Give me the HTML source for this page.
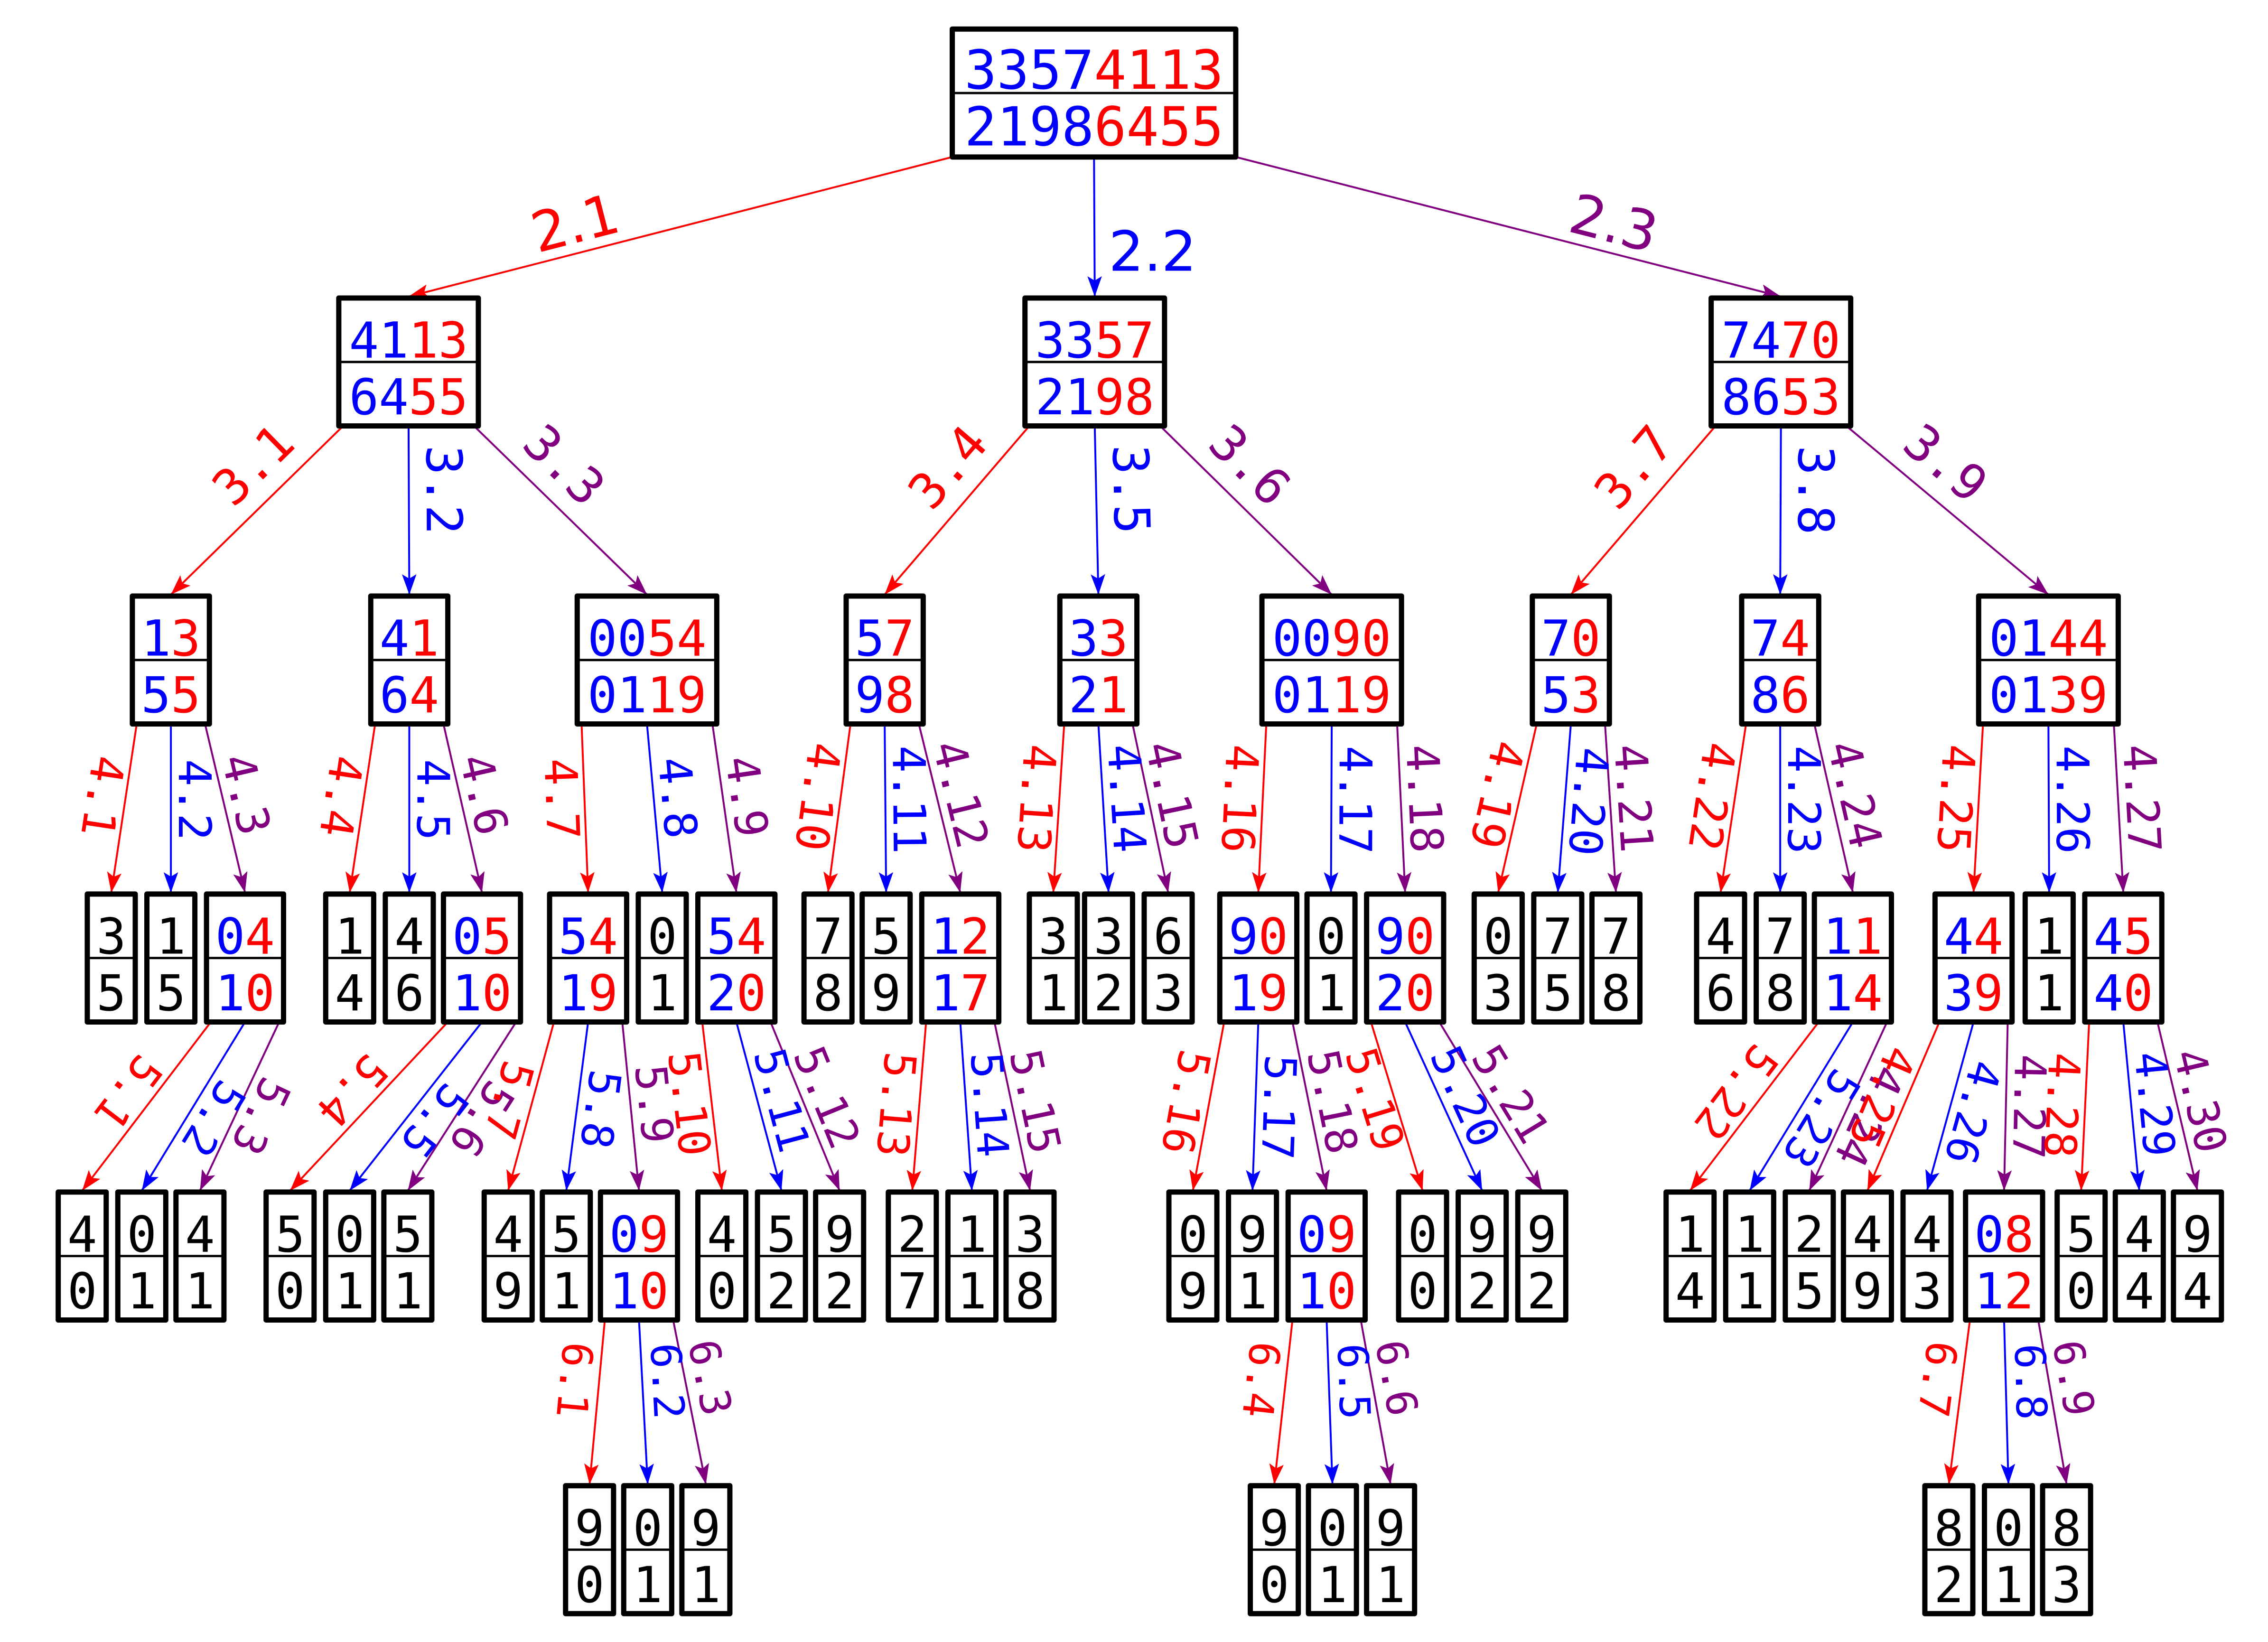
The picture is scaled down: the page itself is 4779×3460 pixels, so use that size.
<!DOCTYPE html>
<html><head><meta charset="utf-8"><style>
html,body{margin:0;padding:0;background:#fff}
svg{display:block}
</style></head><body>
<svg id="tree" width="4779" height="3460" viewBox="0 0 1560 1129.5" xmlns="http://www.w3.org/2000/svg">
<defs>
<marker id="ar-red" viewBox="0 0 14 10" refX="14" refY="5" markerWidth="14" markerHeight="10" markerUnits="userSpaceOnUse" orient="auto"><path d="M0,0 L14,5 L0,10 L3,5 Z" fill="#ff0000"/></marker>
<marker id="ar-blue" viewBox="0 0 14 10" refX="14" refY="5" markerWidth="14" markerHeight="10" markerUnits="userSpaceOnUse" orient="auto"><path d="M0,0 L14,5 L0,10 L3,5 Z" fill="#0000ff"/></marker>
<marker id="ar-purple" viewBox="0 0 14 10" refX="14" refY="5" markerWidth="14" markerHeight="10" markerUnits="userSpaceOnUse" orient="auto"><path d="M0,0 L14,5 L0,10 L3,5 Z" fill="#800080"/></marker>
</defs>
<g id="edges"></g><g id="nodes"></g><g id="labels"></g>
</svg>
<script>
// node data: top text, bottom text, level, parent index, edge label
const nodeTop = ["33574113","4113","3357","7470",
 "13","41","0054","57","33","0090","70","74","0144",
 "3","1","04","1","4","05","54","0","54","7","5","12","3","3","6","90","0","90","0","7","7","4","7","11","44","1","45",
 "4","0","4","5","0","5","4","5","09","4","5","9","2","1","3","0","9","09","0","9","9","1","1","2","4","4","08","5","4","9",
 "9","0","9","9","0","9","8","0","8"];
const nodeBottom = ["21986455","6455","2198","8653",
 "55","64","0119","98","21","0119","53","86","0139",
 "5","5","10","4","6","10","19","1","20","8","9","17","1","2","3","19","1","20","3","5","8","6","8","14","39","1","40",
 "0","1","1","0","1","1","9","1","10","0","2","2","7","1","8","9","1","10","0","2","2","4","1","5","9","3","12","0","4","4",
 "0","1","1","0","1","1","2","1","3"];
const nodeLevel = [0,1,1,1, 2,2,2,2,2,2,2,2,2,
 3,3,3,3,3,3,3,3,3,3,3,3,3,3,3,3,3,3,3,3,3,3,3,3,3,3,3,
 4,4,4,4,4,4,4,4,4,4,4,4,4,4,4,4,4,4,4,4,4,4,4,4,4,4,4,4,4,4,
 5,5,5,5,5,5,5,5,5];
const nodeParent = [-1,0,0,0, 1,1,1,2,2,2,3,3,3,
 4,4,4,5,5,5,6,6,6,7,7,7,8,8,8,9,9,9,10,10,10,11,11,11,12,12,12,
 15,15,15,18,18,18,19,19,19,21,21,21,24,24,24,28,28,28,30,30,30,36,36,36,37,37,37,39,39,39,
 48,48,48,57,57,57,66,66,66];
const edgeLabel = ["","2.1","2.2","2.3",
 "3.1","3.2","3.3","3.4","3.5","3.6","3.7","3.8","3.9",
 "4.1","4.2","4.3","4.4","4.5","4.6","4.7","4.8","4.9","4.10","4.11","4.12","4.13","4.14","4.15","4.16","4.17","4.18","4.19","4.20","4.21","4.22","4.23","4.24","4.25","4.26","4.27",
 "5.1","5.2","5.3","5.4","5.5","5.6","5.7","5.8","5.9","5.10","5.11","5.12","5.13","5.14","5.15","5.16","5.17","5.18","5.19","5.20","5.21","5.22","5.23","4.24","4.25","4.26","4.27","4.28","4.29","4.30",
 "6.1","6.2","6.3","6.4","6.5","6.6","6.7","6.8","6.9"];
// horizontal left edges of boxes (layout)
const nodeLeft = [655,233,705,1177,
 91,255,397,582,729,868,1054,1198,1361,
 60,101,142,224,265,305,378,439,480,553,593,634,708,746,787,839,899,940,1014,1055,1095,1167,1208,1248,1331,1393,1434,
 40,81,121,183,224,264,333,373,413,480,521,561,611,652,692,804,845,886,962,1003,1044,1146,1187,1228,1268,1309,1352,1415,1455,1495,
 389,429,469,860,900,940,1324,1365,1405];

const levelY=[20,205,410,615,820,1022];
const BH=88;
const NS="http://www.w3.org/2000/svg";
const COLORS=["#ff0000","#0000ff","#800080"];
const CNAME=["red","blue","purple"];
function mk(tag,attrs,parent){const e=document.createElementNS(NS,tag);for(const k in attrs)e.setAttribute(k,attrs[k]);parent.appendChild(e);return e;}
const gE=document.getElementById('edges'),gN=document.getElementById('nodes'),gL=document.getElementById('labels');

function boxW(i){const n=nodeTop[i].length;if(i===0)return 195;if(n===1)return 33;if(n===2)return 53;return 96;}
function fs(i){return i===0?37:34;}

// nodes
for(let i=0;i<nodeTop.length;i++){
  const x=nodeLeft[i],y=levelY[nodeLevel[i]],w=boxW(i);
  const g=mk('g',{},gN);
  
  
  const r=mk('rect',{x:x,y:y,width:w,height:BH,fill:'#fff',stroke:'#000','stroke-width':3.6,'stroke-linejoin':'round'},g);
  
  
  const l=mk('line',{x1:x,y1:y+BH/2,x2:x+w,y2:y+BH/2,stroke:'#000','stroke-width':1.6},g);
  
  
  [[nodeTop[i],y+41],[nodeBottom[i],y+80]].forEach(([s,by],row)=>{
    const t=mk('text',{x:x+w/2,y:by,'text-anchor':'middle','font-family':'"DejaVu Sans Mono","Liberation Mono",monospace','font-size':fs(i)},g);
    
    
    const n=s.length;
    for(let k=0;k<n;k++){
      const sp=mk('tspan',{fill:n===1?'#000':(k<n/2?'#0000ff':'#ff0000')},t);
      sp.textContent=s[k];
    }
  });
}

// edges
const childCount={};
for(let i=1;i<nodeTop.length;i++){
  const p=nodeParent[i];
  const ci=childCount[p]||0;childCount[p]=ci+1;
  const px=nodeLeft[p],pw=boxW(p),py=levelY[nodeLevel[p]]+BH;
  const sx= ci===0? px+(p===0?0:3) : ci===1? px+pw/2 : px+pw-(p===0?0:3);
  const ex=nodeLeft[i]+boxW(i)/2, ey=levelY[nodeLevel[i]]-1;
  const ln=mk('line',{x1:sx,y1:py,x2:ex,y2:ey,stroke:COLORS[ci],'stroke-width':1.3,'marker-end':'url(#ar-'+CNAME[ci]+')'},gE);
  
  
  // label
  const lv=nodeLevel[i];
  const dx=ex-sx,dy=ey-py,len=Math.hypot(dx,dy),ux=dx/len,uy=dy/len;
  const t= lv===1?0.68:(lv===2?0.38:(lv===5?0.38:(lv===4?0.5:0.45)));
  // two perpendiculars
  let nx,ny;
  if(lv===1){
    if(ci===1){nx=1;ny=0;}
    else {nx=-Math.abs(uy)*Math.sign(ux); ny=-Math.abs(ux); nx=ci===0?-Math.abs(uy):Math.abs(uy);}
  } else if(ci===0){ nx=-Math.abs(uy); ny=uy>0?ux*Math.sign(-1)*-1:0; ny=ux*(-1)*-1*(ux<0?1:-1)*Math.sign(ux||1); ny=-Math.abs(ux)*Math.sign(ux)*-1; ny= ux<0 ? ux : -ux; }
  else { nx=Math.abs(uy); ny=-ux; }
  const nl=Math.hypot(nx,ny)||1; nx/=nl; ny/=nl;
  const off= lv===1?(ci===1?40:20):(lv===2?24:(lv===5?17:16));
  let cx=sx+dx*t+nx*off, cy=py+dy*t+ny*off;
  let ang=Math.atan2(dy,dx)*180/Math.PI;
  if(lv<=2){ if(ang>91)ang-=180; if(ang<-91)ang+=180; }
  if(i===2) ang=0;
  const fsz= lv===1?38:(lv===2?34:(lv===3?31:(lv===4?30:29)));
  const lab=mk('text',{x:0,y:0,'text-anchor':'middle','dominant-baseline':'central',fill:COLORS[ci],
    'font-family':lv===1?'"DejaVu Sans","Liberation Sans",sans-serif':'"DejaVu Sans Mono","Liberation Mono",monospace',
    'font-size':fsz,transform:'translate('+cx.toFixed(1)+','+cy.toFixed(1)+') rotate('+ang.toFixed(1)+')'},gL);
  
  
  lab.textContent=edgeLabel[i];
}
</script>
</body></html>
